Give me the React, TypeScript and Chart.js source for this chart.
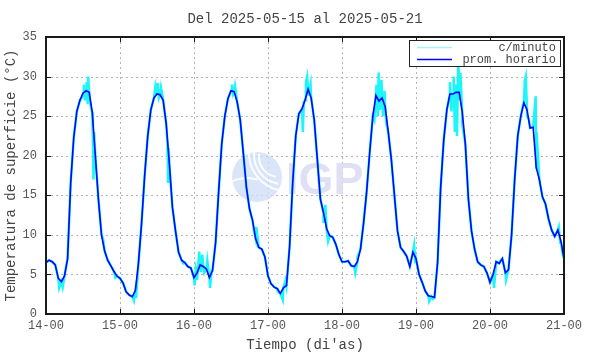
import React, { useEffect, useRef } from "react";
import { Chart, registerables } from "chart.js";

Chart.register(...registerables);

// ---------- data ----------
const titleText = "Del 2025-05-15 al 2025-05-21";
const xTitle = "Tiempo (di'as)";
const yTitle = "Temperatura de superficie (°C)";
const dayLabels = ["14-00", "15-00", "16-00", "17-00", "18-00", "19-00", "20-00", "21-00"];
const tempTicks = [0, 5, 10, 15, 20, 25, 30, 35];
const seriesNames = ["c/minuto", "prom. horario"];

// hourly averages, hour 0 = 14-00 ... hour 168 = 21-00
const hourly = [
  6.5, 6.8, 6.6, 6.2, 4.5, 4.1, 4.8, 7.0, 16.5, 22.3, 25.6, 27.0, 27.9, 28.2, 28.0, 25.5, 20.0, 14.5, 10.0, 8.0, 6.8, 6.1, 5.4, 4.8,
  4.5, 3.9, 2.8, 2.4, 2.2, 3.0, 6.5, 11.5, 17.5, 22.5, 25.8, 27.3, 27.8, 27.7, 27.0, 24.0, 19.0, 13.5, 10.5, 7.8, 6.8, 6.5, 6.0, 5.8,
  4.6, 5.2, 6.2, 6.0, 5.7, 4.6, 5.5, 9.0, 15.5, 21.5, 25.0, 27.2, 28.2, 28.1, 26.8, 24.5, 20.3, 16.0, 13.3, 11.8, 9.5, 8.4, 8.2, 7.2,
  4.8, 3.8, 3.4, 3.2, 2.6, 3.3, 3.6, 8.5, 16.5, 22.5, 25.3, 25.9, 27.0, 28.4, 27.3, 24.5, 19.5, 14.5, 12.8, 10.8, 9.9, 9.7, 8.8, 7.5,
  6.6, 6.6, 6.7, 6.1, 6.0, 6.6, 8.2, 11.5, 15.5, 20.5, 25.0, 27.6, 26.9, 27.3, 26.2, 23.0, 19.5, 15.0, 10.5, 8.4, 7.9, 7.3, 6.0, 7.8,
  7.0, 5.0, 4.0, 2.9, 2.3, 2.2, 2.1, 6.5, 16.0, 22.0, 25.8, 27.8, 27.8, 28.0, 28.0, 25.5, 21.5, 14.5, 10.5, 8.2, 6.6, 6.2, 6.0, 5.2,
  4.0, 5.0, 6.6, 6.4, 7.0, 5.2, 5.6, 10.0, 17.0, 22.5, 25.0, 26.7, 25.8, 23.5, 23.6, 18.5, 17.0, 14.8, 13.9, 12.0, 10.6, 9.8, 10.6, 9.2,
  7.0,
];

// extra per-minute readings (hour, value) where the raw series departs from the hourly mean
const minuteExtra: [number, number][] = [
  [4.3, 3.3], [5.4, 3.4], [11.8, 27.5], [12.3, 29.0], [12.6, 27.0], [13.2, 29.3], [13.5, 26.5], [13.7, 30.0], [14.1, 27.5],
  [14.6, 26.0], [15.2, 22.5], [15.4, 17.0], [15.6, 23.0], [18.5, 9.5], [22.5, 4.6],
  [28.5, 1.7], [29.2, 2.0], [35.5, 28.8], [36.2, 29.2], [36.6, 27.3], [37.3, 28.6], [39.4, 21.5], [39.6, 16.7], [39.8, 21.0], [44.5, 6.4],
  [48.2, 3.6], [48.6, 5.8], [49.0, 4.3], [49.7, 7.9], [50.2, 5.3], [50.7, 7.5], [51.3, 5.2], [52.3, 6.8], [53.2, 3.3], [53.7, 5.5],
  [60.3, 29.0], [60.7, 27.8], [61.3, 28.8], [67.5, 10.4], [68.2, 11.0],
  [75.2, 2.8], [76.8, 1.8], [77.7, 4.3], [83.3, 23.0], [83.6, 26.8], [84.3, 29.3], [84.7, 30.0], [85.2, 27.6], [85.8, 29.0],
  [90.0, 11.5], [90.6, 13.8], [91.5, 9.2],
  [100.3, 5.2], [101.0, 7.2], [106.5, 24.5], [107.2, 29.0], [107.6, 25.0], [107.9, 30.5], [108.3, 25.8], [108.8, 29.6], [109.3, 25.0],
  [109.8, 28.2], [110.4, 24.0], [119.4, 8.7], [119.8, 6.4],
  [124.3, 1.6], [125.5, 1.9], [126.2, 3.0], [131.0, 29.3], [131.5, 25.6], [132.2, 30.0], [132.6, 23.0], [133.0, 29.0], [133.3, 22.5],
  [133.7, 32.3], [134.0, 27.0], [134.4, 30.5], [135.0, 24.0],
  [145.3, 3.3], [147.3, 6.7], [149.2, 4.3], [154.7, 26.5], [155.3, 29.5], [155.6, 30.0], [156.0, 25.0], [156.6, 24.6], [158.8, 27.5],
  [159.1, 23.0], [166.3, 11.0], [166.8, 9.0], [167.6, 7.5],
];

// ---------- styles ----------
const MONO = "'Liberation Mono', 'DejaVu Sans Mono', monospace";
const CYAN = "rgb(30,245,250)";
const BLUE = "rgb(0,0,255)";

const hourlyPts = hourly.map((v, i) => ({ x: i, y: v }));
const minutePts = [...hourlyPts, ...minuteExtra.map(([x, y]) => ({ x, y }))].sort((a, b) => a.x - b.x);

const decor = {
  id: "decor",
  beforeDatasetsDraw(chart: any) {
    const { ctx, chartArea, scales } = chart;
    const { left, right, top, bottom } = chartArea;
    ctx.save();
    // grid
    ctx.strokeStyle = "#b4b4b4";
    ctx.lineWidth = 1;
    ctx.setLineDash([2, 3]);
    dayLabels.forEach((_, i) => {
      if (i === 0 || i === dayLabels.length - 1) return;
      const px = Math.round(scales.x.getPixelForValue(i * 24)) + 0.5;
      ctx.beginPath();
      ctx.moveTo(px, top);
      ctx.lineTo(px, bottom);
      ctx.stroke();
    });
    tempTicks.forEach((v, i) => {
      if (i === 0 || i === tempTicks.length - 1) return;
      const py = Math.round(scales.y.getPixelForValue(v)) + 0.5;
      ctx.beginPath();
      ctx.moveTo(left, py);
      ctx.lineTo(right, py);
      ctx.stroke();
    });
    ctx.setLineDash([]);
    // watermark
    const cx = 257, cy = 177, r = 25;
    ctx.fillStyle = "rgba(205,220,248,0.75)";
    ctx.beginPath();
    ctx.arc(cx, cy, r, 0, Math.PI * 2);
    ctx.fill();
    ctx.strokeStyle = "rgba(255,255,255,0.9)";
    ctx.lineWidth = 2;
    for (let k = 0; k < 3; k++) {
      ctx.beginPath();
      ctx.arc(cx + 22 + k * 4, cy - 20 - k * 2, 20 + k * 9, Math.PI * 0.55, Math.PI * 1.05);
      ctx.stroke();
    }
    ctx.beginPath();
    ctx.arc(cx - 10, cy + 35, 34, Math.PI * 1.2, Math.PI * 1.6);
    ctx.stroke();
    ctx.fillStyle = "rgba(218,218,242,0.85)";
    ctx.font = "bold 45px 'Liberation Sans', Arial, sans-serif";
    ctx.textBaseline = "alphabetic";
    ctx.textAlign = "left";
    ctx.fillText("IGP", 286, 194);
    ctx.restore();
  },
  afterDatasetsDraw(chart: any) {
    const { ctx, chartArea, scales } = chart;
    const { left, right, top, bottom } = chartArea;
    ctx.save();
    // frame
    ctx.strokeStyle = "#1a1a1a";
    ctx.lineWidth = 2;
    ctx.strokeRect(left, top, right - left, bottom - top);
    // inward ticks
    ctx.lineWidth = 1;
    const tl = 5;
    dayLabels.forEach((_, i) => {
      const px = Math.round(scales.x.getPixelForValue(i * 24)) + 0.5;
      ctx.beginPath();
      ctx.moveTo(px, bottom);
      ctx.lineTo(px, bottom - tl);
      ctx.moveTo(px, top);
      ctx.lineTo(px, top + tl);
      ctx.stroke();
    });
    tempTicks.forEach((v) => {
      const py = Math.round(scales.y.getPixelForValue(v)) + 0.5;
      ctx.beginPath();
      ctx.moveTo(left, py);
      ctx.lineTo(left + tl, py);
      ctx.moveTo(right, py);
      ctx.lineTo(right - tl, py);
      ctx.stroke();
    });
    // legend
    const lx = 409, ly = 40, lw = 151, lh = 26;
    ctx.fillStyle = "#ffffff";
    ctx.fillRect(lx, ly, lw, lh);
    ctx.strokeStyle = "#222";
    ctx.lineWidth = 1;
    ctx.strokeRect(lx + 0.5, ly + 0.5, lw, lh);
    const rows = [
      { name: seriesNames[0], color: "rgb(170,240,250)", y: 47 },
      { name: seriesNames[1], color: BLUE, y: 59 },
    ];
    ctx.font = `12px ${MONO}`;
    ctx.textAlign = "right";
    ctx.textBaseline = "middle";
    rows.forEach((r) => {
      ctx.strokeStyle = r.color;
      ctx.lineWidth = 1.5;
      ctx.beginPath();
      ctx.moveTo(417, r.y + 0.5);
      ctx.lineTo(452, r.y + 0.5);
      ctx.stroke();
      ctx.fillStyle = "#444";
      ctx.fillText(r.name, 556, r.y + 1);
    });
    // title
    ctx.font = `14px ${MONO}`;
    ctx.textAlign = "center";
    ctx.textBaseline = "middle";
    ctx.fillStyle = "#444";
    ctx.fillText(titleText, (left + right) / 2, 19);
    ctx.restore();
  },
};

export default function App() {
  const ref = useRef<HTMLCanvasElement | null>(null);
  useEffect(() => {
    if (!ref.current) return;
    const chart = new Chart(ref.current, {
      type: "line",
      data: {
        datasets: [
          {
            label: seriesNames[0],
            data: minutePts,
            borderColor: CYAN,
            borderWidth: 2.5,
            pointRadius: 0,
            tension: 0,
            order: 2,
          },
          {
            label: seriesNames[1],
            data: hourlyPts,
            borderColor: BLUE,
            borderWidth: 1.6,
            pointRadius: 0,
            tension: 0,
            order: 1,
          },
        ],
      },
      options: {
        animation: false,
        responsive: false,
        devicePixelRatio: 1,
        layout: { padding: { top: 37, right: 26, left: 0, bottom: 0 } },
        scales: {
          x: {
            type: "linear",
            min: 0,
            max: 168,
            afterBuildTicks: (s: any) => {
              s.ticks = dayLabels.map((_, i) => ({ value: i * 24 }));
            },
            ticks: {
              autoSkip: false,
              maxRotation: 0,
              padding: 5,
              color: "#555",
              font: { family: MONO, size: 12 },
              callback: (v: any) => dayLabels[Math.round(Number(v) / 24)] ?? "",
            },
            grid: { display: false, drawTicks: false },
            border: { display: false },
            title: { display: true, text: xTitle, color: "#444", font: { family: MONO, size: 14 }, padding: 0 },
            afterFit: (s: any) => {
              s.height = 40;
            },
          },
          y: {
            min: 0,
            max: 35,
            afterBuildTicks: (s: any) => {
              s.ticks = tempTicks.map((v) => ({ value: v }));
            },
            ticks: { padding: 9, color: "#555", font: { family: MONO, size: 12 } },
            grid: { display: false, drawTicks: false },
            border: { display: false },
            title: { display: true, text: yTitle, color: "#444", font: { family: MONO, size: 14 }, padding: { top: 3, bottom: 0 } },
            afterFit: (s: any) => {
              s.width = 46;
            },
          },
        },
        plugins: { legend: { display: false }, title: { display: false }, tooltip: { enabled: false } },
      },
      plugins: [decor],
    });
    return () => chart.destroy();
  }, []);
  return (
    <div style={{ position: "fixed", left: 0, top: 0, width: 590, height: 354, background: "#fff" }}>
      <canvas ref={ref} width={590} height={354} style={{ width: 590, height: 354, display: "block" }} />
    </div>
  );
}
